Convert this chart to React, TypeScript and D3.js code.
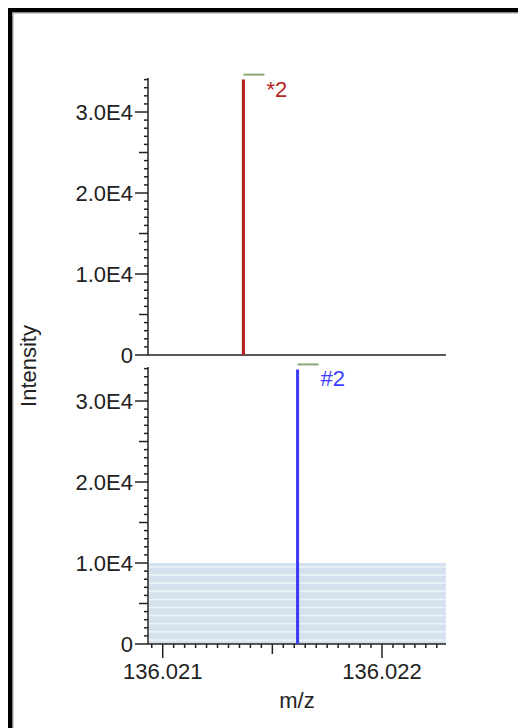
import React from "react";
import * as d3 from "d3";

const peakLabels = ["*2", "#2"];
const peakMz = [136.021368, 136.021615];
const peakIntensity = [34000, 33900];
const yTickValues = [0, 10000, 20000, 30000];
const yTickLabels = ["0", "1.0E4", "2.0E4", "3.0E4"];
const xTickValues = [136.021, 136.022];
const xTickLabels = ["136.021", "136.022"];
const thresholdIntensity = 10000;
const xDomain = [136.0209329, 136.022292];
const yDomain = [0, 34200];
const xTitle = "m/z";
const yTitle = "Intensity";

const W = 518;
const H = 728;
const FONT = "'Liberation Sans', Arial, sans-serif";
const FS = 22;

const x = d3.scaleLinear().domain(xDomain).range([148, 446]);
const panels = [
  { y: d3.scaleLinear().domain(yDomain).range([355, 78]), color: "#b01e1e", labelColor: "#b52424" },
  { y: d3.scaleLinear().domain(yDomain).range([644, 367]), color: "#3b3bf6", labelColor: "#3d3dff" },
];

function YAxis({ y }: { y: d3.ScaleLinear<number, number> }) {
  const minor = d3.range(0, yDomain[1], 1000);
  const x0 = x.range()[0];
  return (
    <g>
      <line x1={x0} x2={x0} y1={y(yDomain[1])} y2={y(0)} stroke="#222" strokeWidth={1.5} />
      {minor.map((v) => {
        const major = v % 10000 === 0;
        const mid = !major && v % 5000 === 0;
        const len = major ? 13 : mid ? 9 : 4;
        return <line key={v} x1={x0 - len} x2={x0} y1={y(v)} y2={y(v)} stroke="#222" strokeWidth={1.5} />;
      })}
      {yTickValues.map((v, i) => (
        <text key={v} x={x0 - 15} y={y(v)} dy="0.36em" textAnchor="end" fontSize={FS} fontFamily={FONT} fill="#222">
          {yTickLabels[i]}
        </text>
      ))}
    </g>
  );
}

export default function App() {
  const bottom = panels[1].y;
  const yb = bottom(0);
  const xMinor = d3.range(136.02095, xDomain[1], 0.00005);
  return (
    <div style={{ position: "fixed", left: 0, top: 0, width: W, height: H, overflow: "hidden", background: "#fff" }}>
      <svg width={W} height={H} style={{ display: "block" }}>
        {/* frame */}
        <rect x={8} y={8} width={W} height={H} fill="#fff" />
        <line x1={8} x2={W} y1={10} y2={10} stroke="#000" strokeWidth={4} />
        <line x1={10} x2={10} y1={8} y2={H} stroke="#000" strokeWidth={4} />
        <line x1={12} x2={W} y1={12.5} y2={12.5} stroke="#888" strokeWidth={1} />
        <line x1={12.5} x2={12.5} y1={12} y2={H} stroke="#888" strokeWidth={1} />
        <line x1={13} x2={W} y1={13.5} y2={13.5} stroke="#ccc" strokeWidth={1} />
        <line x1={13.5} x2={13.5} y1={13} y2={H} stroke="#ccc" strokeWidth={1} />

        {/* threshold band */}
        <rect
          x={x.range()[0] + 1}
          y={bottom(thresholdIntensity)}
          width={x.range()[1] - x.range()[0] - 1}
          height={bottom(0) - bottom(thresholdIntensity)}
          fill="#d5e1ef"
        />
        {d3.range(1000, thresholdIntensity + 1, 1000).map((v) => (
          <line key={v} x1={x.range()[0] + 1} x2={x.range()[1]} y1={bottom(v) + 4} y2={bottom(v) + 4} stroke="#edf2f8" strokeWidth={1.5} />
        ))}

        {panels.map((p, i) => (
          <g key={i}>
            <YAxis y={p.y} />
            <line x1={x.range()[0]} x2={x.range()[1]} y1={p.y(0)} y2={p.y(0)} stroke="#222" strokeWidth={1.5} />
            <line x1={x(peakMz[i])} x2={x(peakMz[i])} y1={p.y(0)} y2={p.y(peakIntensity[i])} stroke={p.color} strokeWidth={3} />
            <line
              x1={x(peakMz[i])}
              x2={x(peakMz[i]) + 21}
              y1={p.y(peakIntensity[i]) - 5}
              y2={p.y(peakIntensity[i]) - 5}
              stroke="#8ea775"
              strokeWidth={2}
            />
            <text x={x(peakMz[i]) + 23} y={p.y(peakIntensity[i]) + 17} fontSize={FS} fontFamily={FONT} fill={p.labelColor}>
              {peakLabels[i]}
            </text>
          </g>
        ))}

        {/* bottom x axis ticks */}
        {xMinor.map((v, k) => {
          const r = Math.round(v * 20000);
          const major = r % 20 === 0;
          const mid = !major && r % 10 === 0;
          const len = major ? 14 : mid ? 10 : 4;
          return <line key={k} x1={x(v)} x2={x(v)} y1={yb} y2={yb + len} stroke="#222" strokeWidth={1.5} />;
        })}
        {xTickValues.map((v, i) => (
          <text key={v} x={x(v)} y={yb + 35} textAnchor="middle" fontSize={FS} fontFamily={FONT} fill="#222">
            {xTickLabels[i]}
          </text>
        ))}
        <text x={(x.range()[0] + x.range()[1]) / 2} y={708} textAnchor="middle" fontSize={FS} fontFamily={FONT} fill="#222">
          {xTitle}
        </text>
        <text
          transform={`translate(36, 366) rotate(-90)`}
          textAnchor="middle"
          fontSize={FS}
          fontFamily={FONT}
          fill="#222"
        >
          {yTitle}
        </text>
      </svg>
    </div>
  );
}
